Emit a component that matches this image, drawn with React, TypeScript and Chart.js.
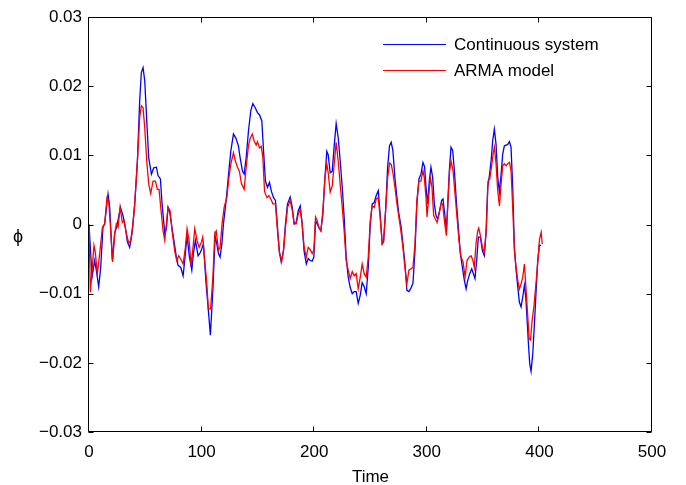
import React, { useEffect, useRef } from "react";
import { Chart, registerables } from "chart.js";

Chart.register(...registerables);

const FONT = '"Liberation Sans", Arial, Helvetica, sans-serif';

const xTicks = [0, 100, 200, 300, 400, 500];
const yTicks = [-0.03, -0.02, -0.01, 0, 0.01, 0.02, 0.03];
const seriesLabels = ["Continuous system", "ARMA model"];
const seriesColors = ["#0000ff", "#ff0000"];
const xTitle = "Time";
const yTitle = "\u03d5";

const continuousT = [
  0, 2.7, 5.0, 6.5, 8.6, 10.4, 12.4, 13.9, 16.9, 18.4, 20.7, 22.8, 25.2, 27.9, 30.2, 32.3, 34.1, 36.1, 38.2, 40.6,
  43.0, 45.0, 46.5, 48.0, 49.5, 51.3, 53.0, 55.4, 57.5, 59.9, 61.3, 63.4, 64.9, 67.3, 68.7, 70.2, 71.7, 73.8, 75.6, 77.6,
  79.1, 81.5, 83.6, 85.0, 87.1, 89.2, 91.3, 92.7, 94.5, 96.9, 99.0, 100.2, 101.6, 104.0, 106.0, 107.8, 110.0, 112.0, 113.5, 115.0,
  116.4, 118.0, 119.4, 121.8, 124.0, 126.0, 128.3, 130.7, 132.7, 134.2, 136.3, 137.8, 139.6, 141.6, 143.7, 145.5, 147.6, 149.6, 151.4, 153.5,
  155.0, 156.7, 158.5, 160.3, 162.0, 163.9, 165.6, 167.4, 169.0, 170.7, 172.7, 174.5, 176.3, 178.7, 180.5, 182.2, 184.0, 185.8, 187.6, 189.3,
  191.0, 193.0, 194.7, 196.4, 198.2, 199.7, 201.2, 202.6, 204.1, 205.9, 207.7, 209.5, 211.2, 212.4, 214.2, 216.0, 217.8, 219.5, 221.3, 223.1,
  224.9, 226.6, 228.4, 230.2, 232.0, 233.8, 235.5, 237.3, 239.1, 240.9, 242.6, 244.4, 246.2, 248.0, 249.8, 251.5, 253.3, 255.1, 256.9, 258.6,
  260.4, 261.6, 263.4, 265.2, 266.9, 268.4, 269.9, 271.7, 273.5, 275.2, 277.0, 278.8, 280.6, 282.3, 284.1, 285.9, 287.7, 289.5, 291.2, 293.0,
  294.8, 296.6, 298.0, 299.3, 300.8, 302.2, 303.7, 305.2, 306.7, 308.2, 309.7, 311.4, 313.2, 314.4, 316.2, 317.4, 318.5, 320.0, 321.5, 323.0,
  324.5, 326.2, 328.0, 329.8, 331.6, 333.4, 334.9, 336.3, 338.1, 339.9, 341.4, 342.8, 344.3, 345.8, 347.6, 349.4, 351.1, 352.6, 354.1, 355.6,
  357.1, 358.5, 360.0, 361.5, 363.0, 364.5, 366.0, 367.4, 368.9, 370.4, 371.9, 373.4, 374.8, 376.3, 377.8, 379.3, 380.8, 382.2, 383.7, 385.2,
  386.7, 387.9, 389.1, 390.2, 391.4, 392.6, 394.1, 395.6, 397.1, 398.5, 400.0, 401.5,
];
const continuousPhi = [
  0, -0.0076, -0.0052, -0.0066, -0.009, -0.0062, -0.0004, 0.0001, 0.0044, 0.0025, -0.0052, -0.0013, 0.0001, 0.0025, 0.0013, -0.0004, -0.0025, -0.0033, -0.0013, 0.003,
  0.0092, 0.0179, 0.022, 0.0227, 0.0208, 0.015, 0.0097, 0.0073, 0.0082, 0.0083, 0.0071, 0.0066, 0.003, -0.0013, -0.0006, 0.0025, 0.0018, -0.0006, -0.0025, -0.0047,
  -0.0059, -0.0062, -0.0074, -0.0052, -0.0016, -0.0047, -0.0066, -0.0042, -0.0023, -0.0045, -0.004, -0.0035, -0.0028, -0.0086, -0.0124, -0.016, -0.0095, -0.0016, -0.0028, -0.0042,
  -0.0047, -0.0028, 0.0001, 0.0035, 0.0074, 0.0107, 0.0131, 0.0124, 0.0114, 0.0097, 0.0077, 0.0073, 0.0097, 0.0135, 0.0165, 0.0175, 0.0169, 0.0162, 0.0159, 0.015,
  0.0107, 0.0063, 0.0054, 0.0061, 0.0048, 0.0039, 0.0035, -0.0004, -0.0038, -0.0054, -0.0038, 0.0001, 0.003, 0.004, 0.0025, 0.0001, 0.0003, 0.002, 0.0027, 0.0001,
  -0.0038, -0.0057, -0.0049, -0.0052, -0.0053, -0.0047, 0.0006, 0.0001, -0.0004, -0.0009, 0.0015, 0.0067, 0.0106, 0.0101, 0.0075, 0.0077, 0.0115, 0.0146, 0.0126, 0.0092,
  0.0054, 0.0011, -0.0047, -0.0076, -0.0091, -0.01, -0.0097, -0.0097, -0.0114, -0.0102, -0.0084, -0.009, -0.01, -0.0062, 0.0001, 0.003, 0.0032, 0.0042, 0.0049, 0.0015,
  -0.0028, -0.0025, 0.002, 0.0083, 0.0114, 0.0119, 0.0107, 0.0067, 0.0039, 0.0015, -0.0001, -0.0028, -0.0057, -0.0095, -0.0097, -0.0092, -0.0085, -0.0038, 0.003, 0.0066,
  0.0073, 0.009, 0.0084, 0.0054, 0.003, 0.0063, 0.0083, 0.0068, 0.003, 0.0013, 0.0008, 0.002, 0.0035, 0.0037, 0.0011, -0.0009, 0.0025, 0.0078, 0.0112, 0.0107,
  0.0078, 0.0035, -0.0004, -0.0042, -0.0062, -0.0081, -0.0093, -0.0081, -0.0071, -0.0064, -0.0071, -0.0078, -0.0052, -0.0018, -0.0018, -0.0038, -0.0045, -0.0013, 0.0054, 0.0071,
  0.0092, 0.0121, 0.0138, 0.0116, 0.0068, 0.0047, 0.0073, 0.0102, 0.0114, 0.0115, 0.0116, 0.012, 0.0112, 0.0054, -0.0033, -0.0066, -0.009, -0.0112, -0.0119, -0.0105,
  -0.0088, -0.0105, -0.0138, -0.0171, -0.0201, -0.0212, -0.0187, -0.0143, -0.0095, -0.0052, -0.003, -0.003,
];

const armaT = [
  0, 1.2, 4.4, 5.6, 7.4, 9.5, 11.9, 13.9, 16.0, 17.5, 19.3, 21.0, 22.8, 24.3, 25.8, 27.6, 29.6, 31.1, 33.2, 35.3,
  37.0, 39.1, 40.6, 43.0, 45.0, 46.5, 48.0, 49.5, 51.3, 53.0, 54.8, 56.9, 59.0, 60.7, 62.2, 63.7, 65.8, 67.3, 68.7, 70.2,
  72.0, 73.8, 76.1, 77.9, 79.7, 82.1, 83.6, 85.6, 87.1, 88.9, 90.7, 92.4, 93.9, 96.0, 97.8, 99.9, 101.0, 102.5, 104.6, 106.0,
  108.0, 110.0, 111.7, 113.0, 115.0, 116.4, 118.2, 120.0, 122.4, 124.2, 126.0, 128.3, 130.0, 131.9, 133.6, 135.4, 137.8, 139.6, 141.6, 143.0,
  145.0, 146.7, 148.5, 149.6, 151.4, 153.0, 154.4, 155.9, 158.0, 159.7, 161.5, 163.3, 165.6, 167.4, 169.2, 171.3, 172.8, 174.5, 176.3, 178.7,
  180.5, 182.2, 184.0, 185.8, 187.6, 189.3, 191.0, 193.0, 194.7, 196.4, 198.2, 199.7, 201.2, 202.6, 204.1, 205.9, 207.7, 209.5, 211.2, 212.4,
  214.2, 216.0, 217.8, 219.5, 221.3, 223.1, 224.9, 226.6, 228.4, 230.2, 232.0, 233.8, 235.5, 237.3, 239.1, 240.9, 242.6, 244.4, 246.2, 248.0,
  249.8, 251.5, 253.3, 255.1, 256.9, 258.6, 260.4, 261.6, 263.4, 265.2, 266.9, 268.4, 269.9, 271.7, 273.5, 275.2, 277.0, 278.8, 280.6, 282.3,
  284.1, 285.9, 287.7, 289.5, 291.2, 293.0, 294.8, 296.6, 297.8, 299.3, 300.2, 301.4, 303.1, 304.6, 306.1, 307.6, 309.1, 310.8, 312.6, 314.1,
  315.6, 317.4, 318.8, 320.3, 321.5, 323.3, 325.1, 326.8, 328.6, 330.4, 332.2, 334.0, 335.7, 337.5, 339.3, 341.0, 342.2, 343.7, 345.2, 346.1,
  347.6, 349.4, 351.1, 352.9, 354.4, 355.9, 357.4, 358.9, 360.0, 361.5, 363.0, 364.5, 366.0, 367.4, 368.9, 370.4, 371.9, 373.4, 374.8, 376.3,
  377.8, 379.3, 380.8, 382.2, 383.7, 385.2, 386.7, 388.2, 389.7, 390.9, 392.1, 393.6, 395.1, 396.9, 398.7, 400.1, 401.6, 402.5,
];
const armaPhi = [
  0, -0.0098, -0.003, -0.004, -0.0071, -0.0042, -0.0004, 0.0001, 0.0039, 0.0035, -0.0009, -0.0054, -0.0013, 0.0001, -0.0004, 0.0025, 0.0003, 0.0006, -0.0013, -0.0027,
  -0.0023, 0.0001, 0.003, 0.0092, 0.0155, 0.0172, 0.0169, 0.014, 0.0092, 0.0059, 0.0045, 0.0063, 0.0063, 0.0051, 0.0051, 0.0025, -0.0009, -0.0023, 0.0001, 0.0025,
  0.002, -0.0009, -0.0038, -0.0052, -0.0045, -0.0052, -0.0057, -0.0033, -0.0006, -0.0023, -0.0059, -0.0033, -0.0006, -0.0023, -0.0033, -0.0025, -0.0018, -0.0047, -0.0085, -0.0122,
  -0.0122, -0.0077, -0.0013, -0.0009, -0.0037, -0.0033, 0.0001, 0.0025, 0.0039, 0.0067, 0.0088, 0.0104, 0.0092, 0.0083, 0.0077, 0.0059, 0.0051, 0.0083, 0.0114, 0.0124,
  0.0131, 0.0121, 0.0115, 0.012, 0.0111, 0.0113, 0.0097, 0.0048, 0.0039, 0.0042, 0.0037, 0.003, 0.003, -0.0009, -0.0042, -0.0052, -0.0037, -0.0004, 0.0025, 0.0035,
  0.0021, 0.0001, 0.0001, 0.0015, 0.0022, 0.0001, -0.0032, -0.0047, -0.0033, -0.0036, -0.0042, -0.0037, 0.0011, 0.0006, -0.0004, -0.0009, 0.002, 0.0067, 0.0088, 0.0075,
  0.0047, 0.0056, 0.0088, 0.0119, 0.0092, 0.0058, 0.0025, -0.0009, -0.0052, -0.0066, -0.0078, -0.0068, -0.0074, -0.0071, -0.0093, -0.0076, -0.0057, -0.0071, -0.0076, -0.0047,
  0.0006, 0.0027, 0.0025, 0.0037, 0.0039, 0.001, -0.0028, -0.0025, 0.002, 0.0067, 0.0089, 0.0087, 0.0075, 0.0054, 0.003, 0.0011, -0.0009, -0.0033, -0.0062, -0.0086,
  -0.0066, -0.0064, -0.0062, -0.0028, 0.0035, 0.0063, 0.0063, 0.0078, 0.0068, 0.0039, 0.0011, 0.0035, 0.0068, 0.0054, 0.0013, 0.0008, 0.0003, 0.0015, 0.003, 0.003,
  0.0006, -0.0016, 0.0035, 0.0078, 0.0092, 0.0078, 0.0044, 0.0011, -0.0023, -0.0047, -0.0054, -0.0076, -0.0052, -0.0047, -0.0045, -0.0052, -0.0062, -0.0028, -0.0009, -0.0005,
  -0.0016, -0.0033, -0.004, -0.0004, 0.0063, 0.0066, 0.0083, 0.0102, 0.0112, 0.0088, 0.0049, 0.0027, 0.0059, 0.0085, 0.0088, 0.0085, 0.0088, 0.009, 0.0078, 0.0025,
  -0.0038, -0.0062, -0.0081, -0.0093, -0.0086, -0.0076, -0.0057, -0.0095, -0.0134, -0.0165, -0.0167, -0.0138, -0.0119, -0.0086, -0.0052, -0.0021, -0.0011, -0.0028,
];

const fmtY = (v: number) => {
  const r = Math.round(v * 100) / 100;
  if (r === 0) return "0";
  return (r < 0 ? "\u2212" : "") + Math.abs(r).toFixed(2);
};

const framePlugin = {
  id: "matlabFrame",
  afterDraw(chart: any) {
    const { ctx, chartArea: a, scales } = chart;
    const xs = scales.x;
    const ys = scales.y;
    const L = Math.round(a.left) - 0.5;
    const R = Math.round(a.right) - 0.5;
    const T = Math.round(a.top) + 0.5;
    const B = Math.round(a.bottom) - 0.5;
    const tl = 5;
    ctx.save();
    ctx.strokeStyle = "#000";
    ctx.lineWidth = 1;
    ctx.beginPath();
    ctx.rect(L, T, R - L, B - T);
    xTicks.forEach((v) => {
      const px = Math.round(xs.getPixelForValue(v)) - 0.5;
      ctx.moveTo(px, B);
      ctx.lineTo(px, B - tl);
      ctx.moveTo(px, T);
      ctx.lineTo(px, T + tl);
    });
    yTicks.forEach((v) => {
      const py = Math.round(ys.getPixelForValue(v)) + 0.5;
      ctx.moveTo(L, py);
      ctx.lineTo(L + tl, py);
      ctx.moveTo(R, py);
      ctx.lineTo(R - tl, py);
    });
    ctx.stroke();

    // legend
    ctx.font = `17px ${FONT}`;
    ctx.fillStyle = "#000";
    ctx.textBaseline = "middle";
    ctx.textAlign = "left";
    const lx0 = a.right - 269;
    const lx1 = a.right - 206;
    const tx = a.right - 198;
    seriesLabels.forEach((lab, i) => {
      const ly = Math.round(a.top + 27 + i * 26) + 0.5;
      ctx.strokeStyle = seriesColors[i];
      ctx.lineWidth = 1;
      ctx.beginPath();
      ctx.moveTo(lx0, ly);
      ctx.lineTo(lx1, ly);
      ctx.stroke();
      ctx.fillText(lab, tx, ly + 1);
    });

    // axis titles
    ctx.textAlign = "center";
    ctx.fillText(xTitle, (a.left + a.right) / 2, a.bottom + 45);
    ctx.font = `18px ${FONT}`;
    ctx.fillText(yTitle, 18, ys.getPixelForValue(0) + 12);
    ctx.restore();
  },
};

export default function App() {
  const ref = useRef<HTMLCanvasElement | null>(null);
  useEffect(() => {
    if (!ref.current) return;
    const chart = new Chart(ref.current, {
      type: "line",
      data: {
        datasets: [
          {
            label: seriesLabels[0],
            data: continuousT.map((t, i) => ({ x: t, y: continuousPhi[i] })),
            borderColor: seriesColors[0],
            borderWidth: 1.3,
            pointRadius: 0,
            tension: 0,
            fill: false,
            order: 2,
          },
          {
            label: seriesLabels[1],
            data: armaT.map((t, i) => ({ x: t, y: armaPhi[i] })),
            borderColor: seriesColors[1],
            borderWidth: 1.3,
            pointRadius: 0,
            tension: 0,
            fill: false,
            order: 1,
          },
        ],
      },
      options: {
        responsive: false,
        animation: false,
        devicePixelRatio: 1,
        layout: { padding: { top: 16, right: 34, bottom: 0, left: 0 } },
        plugins: { legend: { display: false }, tooltip: { enabled: false } },
        scales: {
          x: {
            type: "linear",
            min: 0,
            max: 500,
            afterBuildTicks: (s: any) => {
              s.ticks = xTicks.map((v) => ({ value: v }));
            },
            afterFit: (s: any) => {
              s.height = 53;
            },
            grid: { display: false, drawTicks: false },
            border: { display: false },
            ticks: {
              color: "#000",
              font: { family: FONT, size: 17 },
              padding: 10,
              maxRotation: 0,
              autoSkip: false,
            },
          },
          y: {
            type: "linear",
            min: -0.03,
            max: 0.03,
            afterBuildTicks: (s: any) => {
              s.ticks = yTicks.map((v) => ({ value: v }));
            },
            afterFit: (s: any) => {
              s.width = 89;
            },
            grid: { display: false, drawTicks: false },
            border: { display: false },
            ticks: {
              color: "#000",
              font: { family: FONT, size: 17 },
              padding: 7,
              autoSkip: false,
              callback: (v: any) => fmtY(Number(v)),
            },
          },
        },
      },
      plugins: [framePlugin],
    } as any);
    return () => chart.destroy();
  }, []);
  return (
    <div style={{ position: "absolute", left: 0, top: 0, width: 686, height: 485, background: "#fff" }}>
      <canvas ref={ref} width={686} height={485} />
    </div>
  );
}
